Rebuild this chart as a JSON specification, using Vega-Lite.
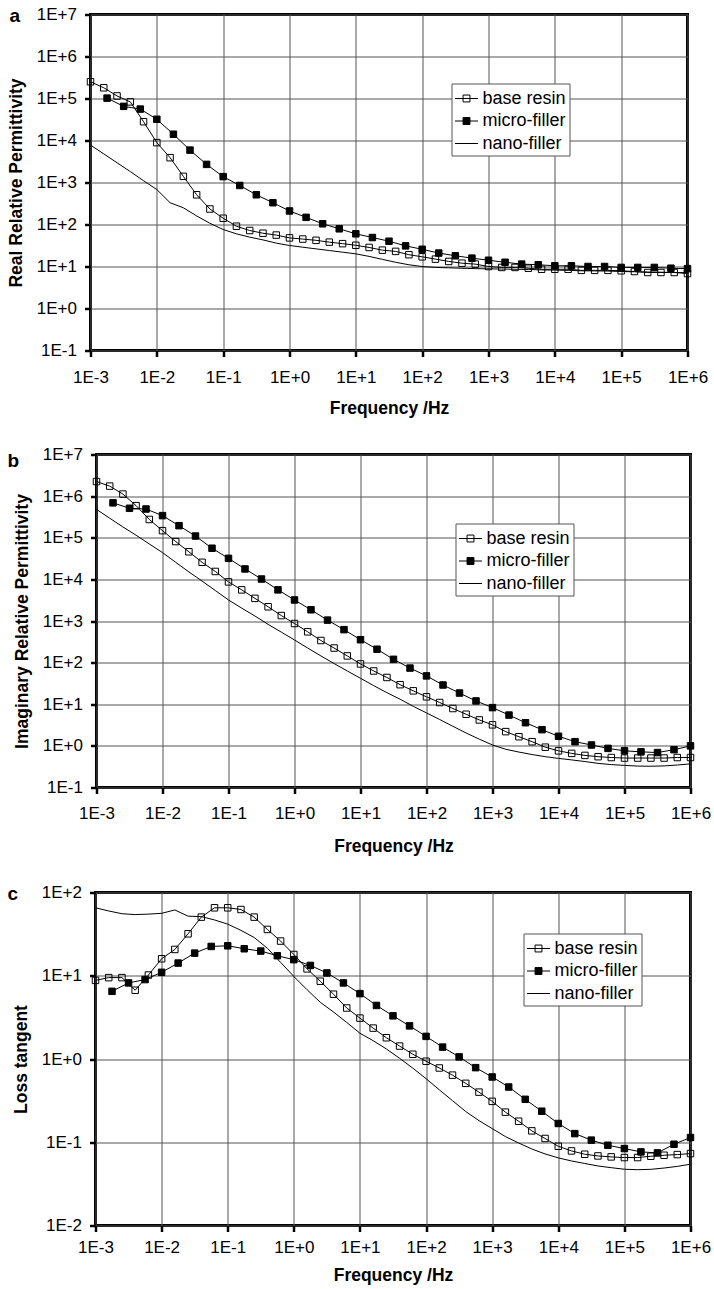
{
  "$schema": "https://vega.github.io/schema/vega-lite/v6.json",
  "padding": {"left": 4.5, "top": 3.5, "right": 0, "bottom": 0},
  "background": "white",
  "spacing": 25,
  "resolve": {"scale": {"stroke": "independent", "fill": "independent"}, "legend": {"stroke": "independent", "fill": "independent"}},
  "config": {
    "font": "Liberation Sans",
    "view": {"stroke": "black", "strokeWidth": 3},
    "axis": {
      "domain": false, "grid": true, "gridColor": "#555", "gridWidth": 1, "gridOpacity": 1,
      "tickColor": "black", "tickWidth": 2.5, "tickSize": 6,
      "labelFont": "Liberation Sans", "labelFontSize": 17, "labelColor": "black",
      "titleFont": "Liberation Sans", "titleFontSize": 17.5, "titleFontWeight": "bold", "titleColor": "black",
      "labelFlush": false, "labelOverlap": false
    },
    "axisY": {"labelPadding": 8, "titleBaseline": "alphabetic", "titleX": -69},
    "axisX": {"titleBaseline": "top"},
    "legend": {
      "orient": "none", "title": null, "symbolSize": 529, "labelFont": "Liberation Sans", "labelFontSize": 18,
      "labelColor": "black", "padding": 3, "rowPadding": 1.5, "labelOffset": 4, "strokeColor": "#555",
      "fillColor": "white", "symbolStrokeWidth": 1, "symbolStrokeColor": "black"
    }
  },
  "data": {"values": [
    {"s":"base resin","f":0.001,"a":2.5e5,"b":2.24e6,"c":8.8},
    {"s":"base resin","f":0.001585,"a":1.8e5,"b":1.74e6,"c":9.5},
    {"s":"base resin","f":0.002512,"a":1.15e5,"b":1.12e6,"c":9.5},
    {"s":"base resin","f":0.003981,"a":8.3e4,"b":5.9e5,"c":6.7},
    {"s":"base resin","f":0.00631,"a":2.8e4,"b":2.75e5,"c":10.2},
    {"s":"base resin","f":0.01,"a":8.9e3,"b":1.48e5,"c":16},
    {"s":"base resin","f":0.01585,"a":3.9e3,"b":8.1e4,"c":20.7},
    {"s":"base resin","f":0.02512,"a":1.4e3,"b":4.6e4,"c":31.9},
    {"s":"base resin","f":0.03981,"a":510,"b":2.57e4,"c":50.6},
    {"s":"base resin","f":0.0631,"a":234,"b":1.55e4,"c":65.5},
    {"s":"base resin","f":0.1,"a":141,"b":8.7e3,"c":65.5},
    {"s":"base resin","f":0.1585,"a":91,"b":5.6e3,"c":62.5},
    {"s":"base resin","f":0.2512,"a":72,"b":3.5e3,"c":50.6},
    {"s":"base resin","f":0.3981,"a":62,"b":2.2e3,"c":36},
    {"s":"base resin","f":0.631,"a":56,"b":1.35e3,"c":26.1},
    {"s":"base resin","f":1,"a":48,"b":870,"c":18},
    {"s":"base resin","f":1.585,"a":45,"b":550,"c":12.1},
    {"s":"base resin","f":2.512,"a":42,"b":340,"c":8.6},
    {"s":"base resin","f":3.981,"a":38,"b":224,"c":6.0},
    {"s":"base resin","f":6.31,"a":35,"b":145,"c":4.1},
    {"s":"base resin","f":10,"a":32,"b":93,"c":3.1},
    {"s":"base resin","f":15.85,"a":28.4,"b":63,"c":2.35},
    {"s":"base resin","f":25.12,"a":24.5,"b":44,"c":1.8},
    {"s":"base resin","f":39.81,"a":22.9,"b":29.5,"c":1.43},
    {"s":"base resin","f":63.1,"a":19.1,"b":21,"c":1.14},
    {"s":"base resin","f":100,"a":17,"b":15.1,"c":0.94},
    {"s":"base resin","f":158.5,"a":15,"b":11,"c":0.78},
    {"s":"base resin","f":251.2,"a":13.2,"b":7.9,"c":0.64},
    {"s":"base resin","f":398.1,"a":12,"b":5.75,"c":0.51},
    {"s":"base resin","f":631,"a":11.4,"b":4.2,"c":0.40},
    {"s":"base resin","f":1000,"a":10,"b":3.2,"c":0.31},
    {"s":"base resin","f":1585,"a":9.5,"b":2.2,"c":0.23},
    {"s":"base resin","f":2512,"a":9.5,"b":1.66,"c":0.179},
    {"s":"base resin","f":3981,"a":9.1,"b":1.26,"c":0.137},
    {"s":"base resin","f":6310,"a":8.6,"b":0.93,"c":0.111},
    {"s":"base resin","f":10000,"a":8.6,"b":0.76,"c":0.0895},
    {"s":"base resin","f":15850,"a":8.6,"b":0.66,"c":0.0787},
    {"s":"base resin","f":25120,"a":8.1,"b":0.59,"c":0.0718},
    {"s":"base resin","f":39810,"a":8.1,"b":0.55,"c":0.0685},
    {"s":"base resin","f":63100,"a":8.1,"b":0.525,"c":0.0667},
    {"s":"base resin","f":100000,"a":7.9,"b":0.51,"c":0.0655},
    {"s":"base resin","f":158500,"a":7.6,"b":0.51,"c":0.0655},
    {"s":"base resin","f":251200,"a":7.2,"b":0.51,"c":0.0679},
    {"s":"base resin","f":398100,"a":7.2,"b":0.51,"c":0.0698},
    {"s":"base resin","f":631000,"a":7.2,"b":0.525,"c":0.0711},
    {"s":"base resin","f":1000000,"a":6.8,"b":0.525,"c":0.0731},
    {"s":"micro-filler","f":0.001778,"a":1.02e5,"b":6.9e5,"c":6.5},
    {"s":"micro-filler","f":0.003162,"a":6.5e4,"b":5.1e5,"c":8.2},
    {"s":"micro-filler","f":0.005623,"a":5.6e4,"b":4.9e5,"c":9.0},
    {"s":"micro-filler","f":0.01,"a":3.2e4,"b":3.4e5,"c":11},
    {"s":"micro-filler","f":0.01778,"a":1.41e4,"b":1.95e5,"c":14.2},
    {"s":"micro-filler","f":0.03162,"a":5.9e3,"b":1.1e5,"c":18.7},
    {"s":"micro-filler","f":0.05623,"a":2.7e3,"b":5.6e4,"c":22.5},
    {"s":"micro-filler","f":0.1,"a":1.38e3,"b":3.2e4,"c":22.9},
    {"s":"micro-filler","f":0.1778,"a":850,"b":1.78e4,"c":21.1},
    {"s":"micro-filler","f":0.3162,"a":510,"b":1.02e4,"c":19.8},
    {"s":"micro-filler","f":0.5623,"a":330,"b":5.6e3,"c":17.4},
    {"s":"micro-filler","f":1,"a":210,"b":3.2e3,"c":15.6},
    {"s":"micro-filler","f":1.778,"a":148,"b":1.86e3,"c":13.3},
    {"s":"micro-filler","f":3.162,"a":104,"b":1.05e3,"c":10.8},
    {"s":"micro-filler","f":5.623,"a":79,"b":620,"c":8.2},
    {"s":"micro-filler","f":10,"a":60,"b":355,"c":6.1},
    {"s":"micro-filler","f":17.78,"a":49,"b":210,"c":4.4},
    {"s":"micro-filler","f":31.62,"a":40,"b":120,"c":3.3},
    {"s":"micro-filler","f":56.23,"a":31,"b":74,"c":2.5},
    {"s":"micro-filler","f":100,"a":25.7,"b":48,"c":1.87},
    {"s":"micro-filler","f":177.8,"a":20.9,"b":29,"c":1.39},
    {"s":"micro-filler","f":316.2,"a":18,"b":18.6,"c":1.06},
    {"s":"micro-filler","f":562.3,"a":15.8,"b":12,"c":0.787},
    {"s":"micro-filler","f":1000,"a":14.1,"b":8.3,"c":0.608},
    {"s":"micro-filler","f":1778,"a":12.6,"b":5.5,"c":0.461},
    {"s":"micro-filler","f":3162,"a":11.4,"b":3.6,"c":0.328},
    {"s":"micro-filler","f":5623,"a":11,"b":2.45,"c":0.236},
    {"s":"micro-filler","f":10000,"a":10.4,"b":1.7,"c":0.168},
    {"s":"micro-filler","f":17780,"a":10.4,"b":1.26,"c":0.127},
    {"s":"micro-filler","f":31620,"a":10,"b":1.05,"c":0.106},
    {"s":"micro-filler","f":56230,"a":10,"b":0.87,"c":0.092},
    {"s":"micro-filler","f":100000,"a":9.5,"b":0.76,"c":0.084},
    {"s":"micro-filler","f":177800,"a":9.5,"b":0.72,"c":0.0766},
    {"s":"micro-filler","f":316200,"a":9.5,"b":0.69,"c":0.0745},
    {"s":"micro-filler","f":562300,"a":9.1,"b":0.81,"c":0.0946},
    {"s":"micro-filler","f":1000000,"a":8.9,"b":1.0,"c":0.114},
    {"s":"nano-filler","f":0.001,"a":7.8e3,"b":4.8e5,"c":65.5},
    {"s":"nano-filler","f":0.001585,"a":4.8e3,"b":2.95e5,"c":60},
    {"s":"nano-filler","f":0.002512,"a":2.95e3,"b":1.82e5,"c":55.6},
    {"s":"nano-filler","f":0.003981,"a":1.82e3,"b":1.15e5,"c":54.3},
    {"s":"nano-filler","f":0.00631,"a":1.1e3,"b":7.1e4,"c":55},
    {"s":"nano-filler","f":0.01,"a":680,"b":4.4e4,"c":56.2},
    {"s":"nano-filler","f":0.01585,"a":330,"b":2.57e4,"c":61.7},
    {"s":"nano-filler","f":0.02512,"a":250,"b":1.51e4,"c":52},
    {"s":"nano-filler","f":0.03981,"a":160,"b":9.1e3,"c":51.3},
    {"s":"nano-filler","f":0.0631,"a":107,"b":5.4e3,"c":46.8},
    {"s":"nano-filler","f":0.1,"a":76,"b":3.2e3,"c":41.7},
    {"s":"nano-filler","f":0.1585,"a":60,"b":2.04e3,"c":35.1},
    {"s":"nano-filler","f":0.2512,"a":50,"b":1.32e3,"c":28.8},
    {"s":"nano-filler","f":0.3981,"a":43,"b":830,"c":21.4},
    {"s":"nano-filler","f":0.631,"a":36,"b":540,"c":14.5},
    {"s":"nano-filler","f":1,"a":31.6,"b":350,"c":9.8},
    {"s":"nano-filler","f":1.585,"a":28.8,"b":224,"c":6.8},
    {"s":"nano-filler","f":2.512,"a":26.3,"b":145,"c":4.8},
    {"s":"nano-filler","f":3.981,"a":24,"b":95,"c":3.67},
    {"s":"nano-filler","f":6.31,"a":21.9,"b":63,"c":2.75},
    {"s":"nano-filler","f":10,"a":20,"b":42,"c":2.04},
    {"s":"nano-filler","f":15.85,"a":17.4,"b":28,"c":1.66},
    {"s":"nano-filler","f":25.12,"a":14.8,"b":19,"c":1.32},
    {"s":"nano-filler","f":39.81,"a":12.6,"b":13.2,"c":1.02},
    {"s":"nano-filler","f":63.1,"a":11,"b":8.9,"c":0.776},
    {"s":"nano-filler","f":100,"a":10,"b":6.2,"c":0.581},
    {"s":"nano-filler","f":158.5,"a":9.5,"b":4.3,"c":0.427},
    {"s":"nano-filler","f":251.2,"a":9.3,"b":2.95,"c":0.316},
    {"s":"nano-filler","f":398.1,"a":9.1,"b":2.04,"c":0.234},
    {"s":"nano-filler","f":631,"a":8.9,"b":1.45,"c":0.182},
    {"s":"nano-filler","f":1000,"a":8.8,"b":1.05,"c":0.146},
    {"s":"nano-filler","f":1585,"a":8.7,"b":0.83,"c":0.117},
    {"s":"nano-filler","f":2512,"a":8.6,"b":0.71,"c":0.098},
    {"s":"nano-filler","f":3981,"a":8.5,"b":0.62,"c":0.083},
    {"s":"nano-filler","f":6310,"a":8.3,"b":0.55,"c":0.0724},
    {"s":"nano-filler","f":10000,"a":8.2,"b":0.50,"c":0.0649},
    {"s":"nano-filler","f":15850,"a":8.1,"b":0.46,"c":0.0596},
    {"s":"nano-filler","f":25120,"a":7.9,"b":0.42,"c":0.0556},
    {"s":"nano-filler","f":39810,"a":7.85,"b":0.38,"c":0.0519},
    {"s":"nano-filler","f":63100,"a":7.8,"b":0.355,"c":0.0495},
    {"s":"nano-filler","f":100000,"a":7.6,"b":0.34,"c":0.0474},
    {"s":"nano-filler","f":158500,"a":7.5,"b":0.327,"c":0.0468},
    {"s":"nano-filler","f":251200,"a":7.4,"b":0.324,"c":0.0473},
    {"s":"nano-filler","f":398100,"a":7.3,"b":0.33,"c":0.049},
    {"s":"nano-filler","f":631000,"a":7.2,"b":0.347,"c":0.0513},
    {"s":"nano-filler","f":1000000,"a":7.2,"b":0.37,"c":0.0545}
  ]},
  "vconcat": [
    {"spacing": 0,
     "resolve": {"scale": {"stroke": "independent", "fill": "independent"}, "legend": {"stroke": "independent", "fill": "independent"}},
     "hconcat": [
    {"width": 1, "height": 1, "view": {"stroke": null}, "data": {"values": []}, "mark": {"type": "point", "opacity": 0}, "encoding": {}},
    {
      "width": 597, "height": 336,
      "title": {"text": "a", "anchor": "start", "frame": "group", "orient": "top", "font": "Liberation Sans", "fontSize": 19, "fontWeight": "bold", "color": "black", "baseline": "alphabetic", "offset": -21.5, "dx": -81, "dy": 13.5},
      "layer": [
        {
          "mark": {"type": "line", "strokeWidth": 1},
          "encoding": {
            "x": {"field": "f", "type": "quantitative", "scale": {"type": "log", "domain": [0.001, 1000000]},
                  "axis": {"values": [0.001,0.01,0.1,1,10,100,1000,10000,100000,1000000], "labelExpr": "'1E' + (datum.value >= 1 ? '+' : '-') + abs(round(log(datum.value) / LN10))", "title": "Frequency /Hz", "labelPadding": 13, "titleY": 49}},
            "y": {"field": "a", "type": "quantitative", "scale": {"type": "log", "domain": [0.1, 10000000]},
                  "axis": {"values": [0.1,1,10,100,1000,10000,100000,1000000,10000000], "labelExpr": "'1E' + (datum.value >= 1 ? '+' : '-') + abs(round(log(datum.value) / LN10))", "title": "Real Relative Permittivity"}},
            "stroke": {"field": "s", "type": "nominal", "scale": {"domain": ["base resin","micro-filler","nano-filler"], "range": ["black","black","black"]},
                       "legend": {"legendX": 361, "legendY": 69,
                                  "encode": {"symbols": {"update": {
                                    "shape": {"signal": "datum.value === 'nano-filler' ? 'M-1,0H1' : 'M-1,0H1M-0.3,-0.3H0.3V0.3H-0.3Z'"},
                                    "fill": {"signal": "datum.value === 'micro-filler' ? 'black' : 'transparent'"},
                                    "stroke": {"value": "black"}, "strokeWidth": {"value": 1}}}}}}
          }
        },
        {
          "transform": [{"filter": "datum.s !== 'nano-filler'"}],
          "mark": {"type": "point", "shape": "square", "size": 42, "filled": true, "stroke": "black", "strokeWidth": 1, "opacity": 1},
          "encoding": {
            "x": {"field": "f", "type": "quantitative"},
            "y": {"field": "a", "type": "quantitative"},
            "fill": {"field": "s", "type": "nominal", "scale": {"domain": ["base resin","micro-filler"], "range": ["transparent","black"]}, "legend": null}
          }
        }
      ]
    }]},
    {"spacing": 0,
     "resolve": {"scale": {"stroke": "independent", "fill": "independent"}, "legend": {"stroke": "independent", "fill": "independent"}},
     "hconcat": [
    {"width": 1, "height": 1, "view": {"stroke": null}, "data": {"values": []}, "mark": {"type": "point", "opacity": 0}, "encoding": {}},
    {
      "width": 594, "height": 333,
      "title": {"text": "b", "anchor": "start", "frame": "group", "orient": "top", "font": "Liberation Sans", "fontSize": 19, "fontWeight": "bold", "color": "black", "baseline": "alphabetic", "offset": -21.5, "dx": -89, "dy": 18.5},
      "layer": [
        {
          "mark": {"type": "line", "strokeWidth": 1},
          "encoding": {
            "x": {"field": "f", "type": "quantitative", "scale": {"type": "log", "domain": [0.001, 1000000]},
                  "axis": {"values": [0.001,0.01,0.1,1,10,100,1000,10000,100000,1000000], "labelExpr": "'1E' + (datum.value >= 1 ? '+' : '-') + abs(round(log(datum.value) / LN10))", "title": "Frequency /Hz", "labelPadding": 12, "titleY": 50}},
            "y": {"field": "b", "type": "quantitative", "scale": {"type": "log", "domain": [0.1, 10000000]},
                  "axis": {"values": [0.1,1,10,100,1000,10000,100000,1000000,10000000], "labelExpr": "'1E' + (datum.value >= 1 ? '+' : '-') + abs(round(log(datum.value) / LN10))", "title": "Imaginary Relative Permittivity"}},
            "stroke": {"field": "s", "type": "nominal", "scale": {"domain": ["base resin","micro-filler","nano-filler"], "range": ["black","black","black"]},
                       "legend": {"legendX": 359, "legendY": 69,
                                  "encode": {"symbols": {"update": {
                                    "shape": {"signal": "datum.value === 'nano-filler' ? 'M-1,0H1' : 'M-1,0H1M-0.3,-0.3H0.3V0.3H-0.3Z'"},
                                    "fill": {"signal": "datum.value === 'micro-filler' ? 'black' : 'transparent'"},
                                    "stroke": {"value": "black"}, "strokeWidth": {"value": 1}}}}}}
          }
        },
        {
          "transform": [{"filter": "datum.s !== 'nano-filler'"}],
          "mark": {"type": "point", "shape": "square", "size": 42, "filled": true, "stroke": "black", "strokeWidth": 1, "opacity": 1},
          "encoding": {
            "x": {"field": "f", "type": "quantitative"},
            "y": {"field": "b", "type": "quantitative"},
            "fill": {"field": "s", "type": "nominal", "scale": {"domain": ["base resin","micro-filler"], "range": ["transparent","black"]}, "legend": null}
          }
        }
      ]
    }]},
    {"spacing": 0,
     "resolve": {"scale": {"stroke": "independent", "fill": "independent"}, "legend": {"stroke": "independent", "fill": "independent"}},
     "hconcat": [
    {"width": 1, "height": 1, "view": {"stroke": null}, "data": {"values": []}, "mark": {"type": "point", "opacity": 0}, "encoding": {}},
    {
      "width": 595, "height": 333,
      "title": {"text": "\u00a0c", "anchor": "start", "frame": "group", "orient": "top", "font": "Liberation Sans", "fontSize": 19, "fontWeight": "bold", "color": "black", "baseline": "alphabetic", "offset": -21.5, "dx": -88, "dy": 13.5},
      "layer": [
        {
          "mark": {"type": "line", "strokeWidth": 1},
          "encoding": {
            "x": {"field": "f", "type": "quantitative", "scale": {"type": "log", "domain": [0.001, 1000000]},
                  "axis": {"values": [0.001,0.01,0.1,1,10,100,1000,10000,100000,1000000], "labelExpr": "'1E' + (datum.value >= 1 ? '+' : '-') + abs(round(log(datum.value) / LN10))", "title": "Frequency /Hz", "labelPadding": 8, "titleY": 41}},
            "y": {"field": "c", "type": "quantitative", "scale": {"type": "log", "domain": [0.01, 100]},
                  "axis": {"values": [0.01,0.1,1,10,100], "labelExpr": "'1E' + (datum.value >= 1 ? '+' : '-') + abs(round(log(datum.value) / LN10))", "title": "Loss tangent"}},
            "stroke": {"field": "s", "type": "nominal", "scale": {"domain": ["base resin","micro-filler","nano-filler"], "range": ["black","black","black"]},
                       "legend": {"legendX": 428, "legendY": 41,
                                  "encode": {"symbols": {"update": {
                                    "shape": {"signal": "datum.value === 'nano-filler' ? 'M-1,0H1' : 'M-1,0H1M-0.3,-0.3H0.3V0.3H-0.3Z'"},
                                    "fill": {"signal": "datum.value === 'micro-filler' ? 'black' : 'transparent'"},
                                    "stroke": {"value": "black"}, "strokeWidth": {"value": 1}}}}}}
          }
        },
        {
          "transform": [{"filter": "datum.s !== 'nano-filler'"}],
          "mark": {"type": "point", "shape": "square", "size": 42, "filled": true, "stroke": "black", "strokeWidth": 1, "opacity": 1},
          "encoding": {
            "x": {"field": "f", "type": "quantitative"},
            "y": {"field": "c", "type": "quantitative"},
            "fill": {"field": "s", "type": "nominal", "scale": {"domain": ["base resin","micro-filler"], "range": ["transparent","black"]}, "legend": null}
          }
        }
      ]
    }]}
  ]
}
